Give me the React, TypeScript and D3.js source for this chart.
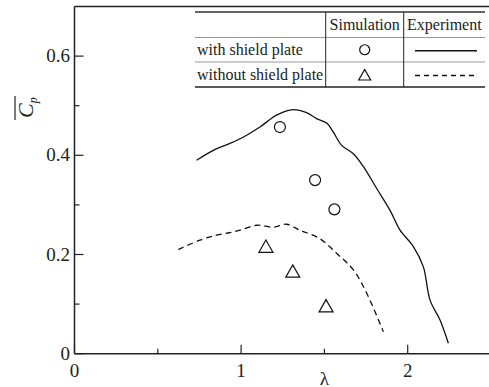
import React from "react";
import * as d3 from "d3";

const withShieldExpX = [0.733, 0.833, 0.933, 1.02, 1.113, 1.213, 1.313, 1.393, 1.453, 1.514, 1.553, 1.604, 1.674, 1.734, 1.814, 1.894, 1.954, 2.034, 2.094, 2.134, 2.194, 2.244];
const withShieldExpY = [0.39, 0.41, 0.424, 0.438, 0.457, 0.481, 0.492, 0.486, 0.474, 0.465, 0.447, 0.42, 0.403, 0.377, 0.333, 0.289, 0.249, 0.216, 0.175, 0.108, 0.068, 0.021];
const withoutShieldExpX = [0.623, 0.753, 0.853, 0.933, 0.993, 1.093, 1.193, 1.273, 1.353, 1.473, 1.574, 1.674, 1.754, 1.854];
const withoutShieldExpY = [0.21, 0.229, 0.239, 0.244, 0.249, 0.259, 0.255, 0.261, 0.249, 0.232, 0.202, 0.169, 0.122, 0.044];
const withShieldSimX = [1.233, 1.444, 1.56];
const withShieldSimY = [0.457, 0.35, 0.291];
const withoutShieldSimX = [1.149, 1.31, 1.51];
const withoutShieldSimY = [0.215, 0.165, 0.095];
const xMajorTicks = [0, 1, 2];
const xMinorTicks = [0.5, 1.5];
const yMajorTicks = [0, 0.2, 0.4, 0.6];
const yMinorTicks = [0.1, 0.3, 0.5];
const legendRows = ["with shield plate", "without shield plate"];
const legendHeaders = ["Simulation", "Experiment"];

const FONT = '"Liberation Serif"';

export default function App() {
  const left = 74.5, right = 491, top = 6.5, bottom = 353.7;
  const x = d3.scaleLinear().domain([0, 2.5]).range([left, right]);
  const y = d3.scaleLinear().domain([0, 0.7]).range([bottom, top]);
  const line = d3.line<[number, number]>().x(d => x(d[0])).y(d => y(d[1])).curve(d3.curveCatmullRom);
  const solid = line(withShieldExpX.map((v, i) => [v, withShieldExpY[i]]));
  const dashed = line(withoutShieldExpX.map((v, i) => [v, withoutShieldExpY[i]]));
  const tri = (cx: number, cy: number, s = 7) => `M${cx},${cy - s}L${cx + s},${cy + s * 0.75}L${cx - s},${cy + s * 0.75}Z`;
  const ts = { fontFamily: FONT };

  const lx0 = 195, lx1 = 325.7, lx2 = 403.7, lx3 = 485;
  const ly = [12, 37.5, 62, 87];
  return (
    <svg width={489} height={387} style={{ position: "absolute", left: 0, top: 0, background: "#fff" }}>
      <rect x={0} y={0} width={489} height={387} fill="#fff" />
      <line x1={left} y1={top} x2={right} y2={top} stroke="#222" strokeWidth={1.5} />
      <line x1={left} y1={top} x2={left} y2={bottom} stroke="#222" strokeWidth={1.5} />
      <line x1={left} y1={bottom} x2={right} y2={bottom} stroke="#222" strokeWidth={1.5} />
      {xMajorTicks.map(t => <line key={"xm" + t} x1={x(t)} x2={x(t)} y1={bottom} y2={bottom - 9} stroke="#222" strokeWidth={1.2} />)}
      {xMinorTicks.map(t => <line key={"xn" + t} x1={x(t)} x2={x(t)} y1={bottom} y2={bottom - 5} stroke="#222" strokeWidth={1.2} />)}
      {yMajorTicks.map(t => <line key={"ym" + t} x1={left} x2={left + 9} y1={y(t)} y2={y(t)} stroke="#222" strokeWidth={1.2} />)}
      {yMinorTicks.map(t => <line key={"yn" + t} x1={left} x2={left + 5} y1={y(t)} y2={y(t)} stroke="#222" strokeWidth={1.2} />)}
      {xMajorTicks.map(t => <text key={"xl" + t} x={x(t)} y={377} textAnchor="middle" fontSize={19} fill="#222" style={ts}>{String(t)}</text>)}
      {yMajorTicks.map(t => <text key={"yl" + t} x={70} y={y(t) + 6} textAnchor="end" fontSize={19} fill="#222" style={ts}>{t === 0 ? "0" : t.toFixed(1)}</text>)}
      <text x={x(1.5)} y={385} textAnchor="middle" fontSize={19} fill="#222" style={ts}>λ</text>
      <g transform="translate(33,118) rotate(-90)">
        <text x={0} y={0} fontSize={22} fontStyle="italic" fill="#222" style={ts}>C<tspan fontSize={12} dy={4}>p</tspan></text>
        <line x1={-2} x2={22} y1={-18} y2={-18} stroke="#222" strokeWidth={1.2} />
      </g>
      <path d={solid ?? ""} fill="none" stroke="#111" strokeWidth={1.3} />
      <path d={dashed ?? ""} fill="none" stroke="#111" strokeWidth={1.3} strokeDasharray="6,4" />
      {withShieldSimX.map((v, i) => <circle key={"c" + i} cx={x(v)} cy={y(withShieldSimY[i])} r={5.5} fill="none" stroke="#111" strokeWidth={1.2} />)}
      {withoutShieldSimX.map((v, i) => <path key={"t" + i} d={tri(x(v), y(withoutShieldSimY[i]))} fill="none" stroke="#111" strokeWidth={1.2} />)}
      <rect x={lx0} y={ly[0]} width={lx3 - lx0} height={ly[3] - ly[0]} fill="#fff" />
      <line x1={lx0} x2={lx3} y1={ly[0]} y2={ly[0]} stroke="#333" strokeWidth={1.5} />
      <line x1={lx0} x2={lx3} y1={ly[1]} y2={ly[1]} stroke="#999" strokeWidth={1} />
      <line x1={lx0} x2={lx3} y1={ly[2]} y2={ly[2]} stroke="#999" strokeWidth={1} />
      <line x1={lx0} x2={lx3} y1={ly[3]} y2={ly[3]} stroke="#222" strokeWidth={1.3} />
      <line x1={lx1} x2={lx1} y1={ly[0]} y2={ly[3]} stroke="#222" strokeWidth={1} />
      <line x1={lx2} x2={lx2} y1={ly[0]} y2={ly[3]} stroke="#222" strokeWidth={1} />
      {legendHeaders.map((h, i) => <text key={h} x={i === 0 ? (lx1 + lx2) / 2 : (lx2 + lx3) / 2} y={30} textAnchor="middle" fontSize={16} fill="#222" style={ts}>{h}</text>)}
      {legendRows.map((r, i) => <text key={r} x={197} y={ly[i + 1] + 17.5} fontSize={16} fill="#222" style={ts}>{r}</text>)}
      <circle cx={(lx1 + lx2) / 2} cy={(ly[1] + ly[2]) / 2} r={5} fill="none" stroke="#111" strokeWidth={1.2} />
      <path d={tri((lx1 + lx2) / 2, (ly[2] + ly[3]) / 2 + 1, 6)} fill="none" stroke="#111" strokeWidth={1.2} />
      <line x1={415} x2={477} y1={(ly[1] + ly[2]) / 2 + 1} y2={(ly[1] + ly[2]) / 2 + 1} stroke="#111" strokeWidth={1.3} />
      <line x1={415} x2={477} y1={(ly[2] + ly[3]) / 2 + 1} y2={(ly[2] + ly[3]) / 2 + 1} stroke="#111" strokeWidth={1.3} strokeDasharray="5,4" />
    </svg>
  );
}
